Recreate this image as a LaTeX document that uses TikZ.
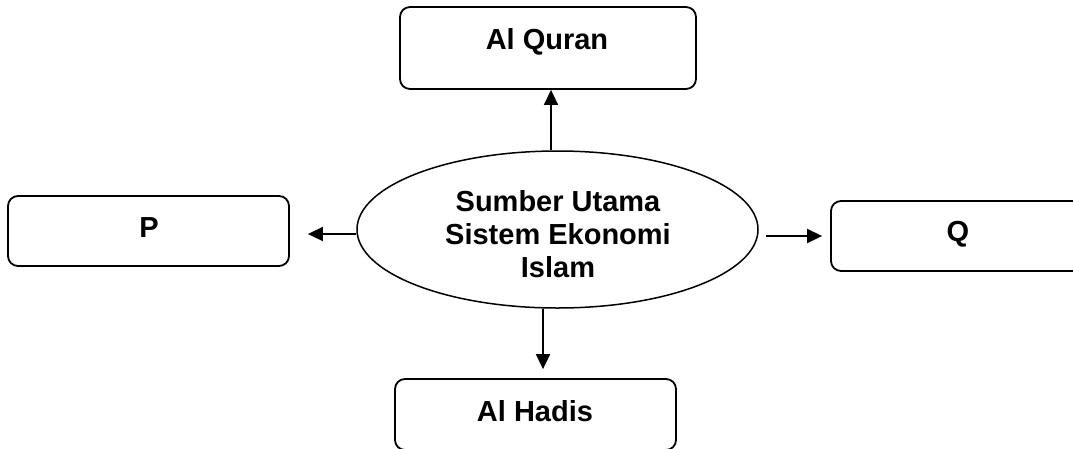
\documentclass[tikz,border=0pt]{standalone}
\usepackage{fontspec}
\setmainfont{Liberation Sans}
\usetikzlibrary{arrows.meta,shapes.geometric}
\begin{document}
\begin{tikzpicture}[x=1pt,y=-1pt,
  box/.style={draw,rectangle,rounded corners=10pt,line width=1.8pt,inner sep=0pt},
  txt/.style={font={\fontsize{29}{33}\selectfont\bfseries},inner sep=0pt},
  arr/.style={line width=1.6pt,-{Triangle[length=15pt,width=14pt]}}]
\useasboundingbox (0,0) rectangle (1073,448);
\clip (0,0) rectangle (1073,448);
% boxes
\node[box,minimum width=296pt,minimum height=82pt] (quran) at (548,48) {};
\node[box,minimum width=281pt,minimum height=70pt] (p) at (148.5,231) {};
\node[box,minimum width=256pt,minimum height=70pt] (q) at (959,236) {};
\node[box,minimum width=281pt,minimum height=71pt] (hadis) at (535.5,414.5) {};
% ellipse
\node[draw,ellipse,line width=1.5pt,inner sep=0pt,minimum width=401pt,minimum height=157pt] (ell) at (557.5,229.5) {};
% texts
\node[txt,anchor=base] (tquran) at (547,49) {Al Quran};
\node[txt,anchor=base] (tp) at (149,237) {P};
\node[txt,anchor=base] (tq) at (958,241) {Q};
\node[txt,anchor=base] (thadis) at (535,421) {Al Hadis};
\node[txt,align=center] (tell) at (558,233.7) {Sumber Utama\\Sistem Ekonomi\\Islam};
% arrows
\draw[arr] ([xshift=3pt]quran.south |- ell.north) -- ([xshift=3pt]quran.south);
\draw[arr] ([xshift=7.5pt]hadis.north |- ell.south) -- ([xshift=7.5pt,yshift=9pt]hadis.north);
\draw[arr] ([yshift=-4.5pt]ell.west) -- ([xshift=18pt,yshift=-3pt]p.east);
\draw[arr] ([xshift=7pt,yshift=-6.5pt]ell.east) -- ([xshift=-8pt]q.west);
\end{tikzpicture}
\end{document}
